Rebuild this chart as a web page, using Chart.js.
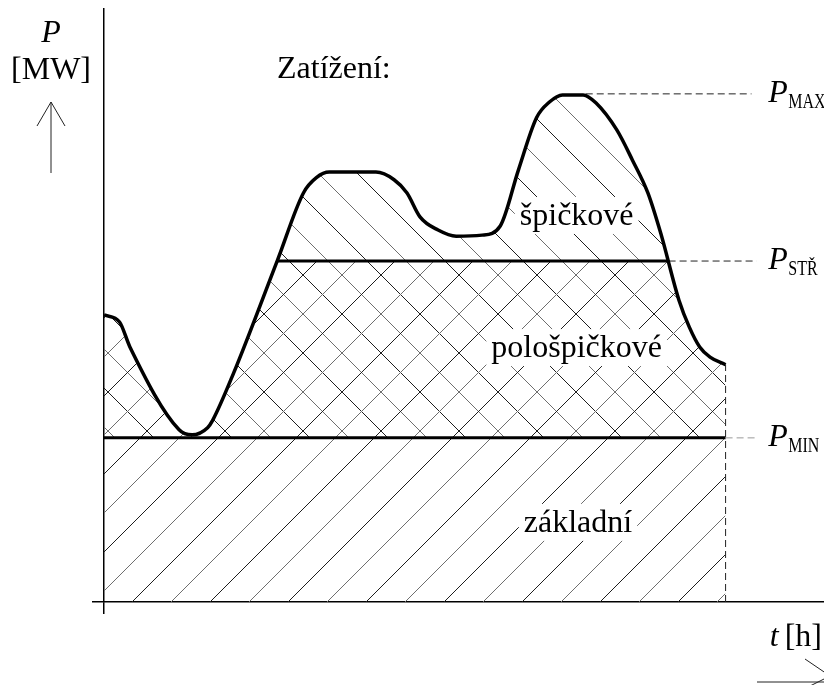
<!DOCTYPE html>
<html>
<head>
<meta charset="utf-8">
<script src="https://cdn.jsdelivr.net/npm/chart.js@4.4.0/dist/chart.umd.min.js"></script>
<style>
  html, body { margin: 0; padding: 0; background: #fff; }
</style>
</head>
<body>
<canvas id="loadChart" width="824" height="685"></canvas>
<script>
// daily load curve (t in h, P in MW)
const hours = [0, 0.6, 1.0, 2.9, 3.4, 4.0, 4.2, 5.0, 6.7, 7.7, 8.2, 8.7,
  10.5, 11.2, 11.7, 12.2, 12.9, 13.6, 14.6, 15.3, 16.0, 16.7, 17.2, 17.7, 18.5,
  19.0, 19.8, 20.4, 21.0, 21.5, 22.2, 22.6, 23.0, 23.4, 24];
const load = [56.5, 55.1, 50.2, 33.9, 32.9, 34.3, 35.8, 45.0, 67.3, 80.5, 83.5, 84.6,
  84.6, 83.1, 80.5, 75.8, 73.2, 72.0, 72.2, 74.0, 85.0, 95.3, 98.4, 99.8, 99.8,
  98.2, 92.9, 87.0, 80.5, 72.5, 59.4, 54.1, 50.2, 48.2, 46.7];

// load levels
const pMax = 100;
const pStr = 67.1;
const pMin = 32.3;
// where the load curve crosses P_STR
const crossT = [6.7, 21.8];

const levelNames = ['MAX', 'STŘ', 'MIN'];
const levelValues = [pMax, pStr, pMin];
const regionNames = ['špičkové', 'pološpičkové', 'základní'];

const serif = '"Liberation Serif", "DejaVu Serif", serif';

// hatch tiles, lines at 45 deg every 39px, dark and light lines alternating
function makeHatch(slash, back, bg) {
  const size = 78, step = 39;
  const c = document.createElement('canvas');
  c.width = size; c.height = size;
  const g = c.getContext('2d');
  if (bg) { g.fillStyle = bg; g.fillRect(0, 0, size, size); }
  g.lineWidth = 1;
  for (let k = -4; k <= 6; k++) {
    g.strokeStyle = Math.abs(k) % 2 === 0 ? '#1e1e1e' : '#6e6e6e';
    g.beginPath();
    if (slash) {
      const cc = 32 + k * step;
      g.moveTo(cc + 10, -10); g.lineTo(cc - size - 10, size + 10);
    }
    if (back) {
      const cc = 28 + k * step;
      g.moveTo(cc - 10, -10); g.lineTo(cc + size + 10, size + 10);
    }
    g.stroke();
  }
  return g.createPattern(c, 'repeat');
}

const slashPattern = makeHatch(true, false, null);
const crossPattern = makeHatch(true, true, null);
const peakPattern = makeHatch(false, true, '#fff');

const curve = hours.map((t, i) => ({ x: t, y: load[i] }));
const lastT = hours[hours.length - 1];
const none = 'rgba(0,0,0,0)';

const labelsPlugin = {
  id: 'labels',
  afterDatasetsDraw(chart) {
    const { ctx, chartArea: area, scales: { x, y } } = chart;
    ctx.save();
    ctx.textBaseline = 'alphabetic';

    // area names on white boxes
    const spots = [[18.25, 74.2], [18.25, 48.2], [18.3, 13.8]];
    ctx.font = '32px ' + serif;
    ctx.textAlign = 'center';
    regionNames.forEach((name, i) => {
      const cx = x.getPixelForValue(spots[i][0]);
      const base = y.getPixelForValue(spots[i][1]);
      const w = ctx.measureText(name).width;
      ctx.fillStyle = '#fff';
      ctx.fillRect(cx - w / 2 - 5, base - 28, w + 10, 37);
      ctx.fillStyle = '#000';
      ctx.fillText(name, cx, base);
    });

    // P_MAX, P_STR, P_MIN on the right
    ctx.textAlign = 'left';
    levelNames.forEach((sub, i) => {
      const px = x.getPixelForValue(25.65);
      const base = y.getPixelForValue(levelValues[i]) + 8;
      ctx.font = 'italic 32px ' + serif;
      ctx.fillText('P', px, base);
      ctx.save();
      ctx.translate(px + 20, base + 6);
      ctx.scale(1, 1.35);
      ctx.font = '16px ' + serif;
      ctx.fillText(sub, 0, 0);
      ctx.restore();
    });

    ctx.font = '32px ' + serif;
    ctx.fillText('Zatížení:', area.left + 173, 78);

    // y axis title and arrow
    const ax = area.left - 53;
    ctx.textAlign = 'center';
    ctx.font = 'italic 32px ' + serif;
    ctx.fillText('P', ax, 42);
    ctx.font = '32px ' + serif;
    ctx.fillText('[MW]', ax, 79);
    ctx.strokeStyle = '#222';
    ctx.lineWidth = 1;
    ctx.beginPath();
    ctx.moveTo(ax, 173); ctx.lineTo(ax, 102);
    ctx.moveTo(ax - 14, 126); ctx.lineTo(ax, 102); ctx.lineTo(ax + 14, 126);
    ctx.stroke();

    // x axis title and arrow
    ctx.textAlign = 'right';
    ctx.fillText('[h]', area.right - 2, 646);
    const hw = ctx.measureText('[h]').width;
    ctx.font = 'italic 32px ' + serif;
    ctx.fillText('t', area.right - 2 - hw - 6, 646);
    ctx.beginPath();
    ctx.moveTo(757, 682); ctx.lineTo(area.right, 682);
    ctx.moveTo(805, 659); ctx.lineTo(830, 676);
    ctx.moveTo(810, 686); ctx.lineTo(830, 676);
    ctx.stroke();
    ctx.restore();
  }
};

const guide = (pts, color) => ({
  data: pts, borderColor: color, borderWidth: 1, borderDash: [7, 4],
  pointRadius: 0, fill: false, order: 4
});

new Chart(document.getElementById('loadChart'), {
  type: 'line',
  data: {
    datasets: [
      { // 0: half-peak band, cross hatch between curve and P_MIN
        data: curve, borderWidth: 0, borderColor: none, pointRadius: 0,
        cubicInterpolationMode: 'monotone', backgroundColor: none,
        fill: { target: 1, above: crossPattern, below: none }, order: 6
      },
      { // 1: P_MIN, base load below it
        data: [{ x: 0, y: pMin }, { x: lastT, y: pMin }],
        borderColor: '#000', borderWidth: 3, pointRadius: 0, backgroundColor: none,
        fill: { target: 'origin', above: slashPattern, below: none }, order: 5
      },
      { // 2: P_STR over whole day, only a fill target
        data: [{ x: 0, y: pStr }, { x: lastT, y: pStr }],
        borderColor: none, borderWidth: 0, pointRadius: 0, fill: false, order: 7
      },
      { // 3: load curve, peak part above P_STR
        data: curve, borderColor: '#000', borderWidth: 3.5, pointRadius: 0,
        cubicInterpolationMode: 'monotone', backgroundColor: none,
        fill: { target: 2, above: peakPattern, below: none }, order: 3
      },
      { // 4: visible part of P_STR
        data: [{ x: crossT[0], y: pStr }, { x: crossT[1], y: pStr }],
        borderColor: '#000', borderWidth: 3, pointRadius: 0, fill: false, order: 2
      },
      guide([{ x: 18.6, y: pMax }, { x: 25.0, y: pMax }], '#222'),
      guide([{ x: crossT[1], y: pStr }, { x: 25.2, y: pStr }], '#222'),
      guide([{ x: lastT, y: pMin }, { x: 25.2, y: pMin }], '#999'),
      guide([{ x: lastT, y: 0 }, { x: lastT, y: load[load.length - 1] }], '#222')
    ]
  },
  options: {
    responsive: false,
    animation: false,
    layout: { padding: { left: 92, top: 9, right: 0, bottom: 71 } },
    plugins: { legend: { display: false }, tooltip: { enabled: false } },
    scales: {
      x: {
        type: 'linear', min: 0, max: 27.8,
        ticks: { display: false },
        grid: {
          drawOnChartArea: false, tickLength: 12, lineWidth: 1.5,
          color: (c) => (c.tick && c.tick.value === 0 ? '#000' : none)
        },
        border: { color: '#000', width: 1.5 }
      },
      y: {
        type: 'linear', min: 0, max: 116.7,
        ticks: { display: false },
        grid: {
          drawOnChartArea: false, tickLength: 12, lineWidth: 1.5,
          color: (c) => (c.tick && c.tick.value === 0 ? '#000' : none)
        },
        border: { color: '#000', width: 1.5 }
      }
    }
  },
  plugins: [labelsPlugin]
});
</script>
</body>
</html>
